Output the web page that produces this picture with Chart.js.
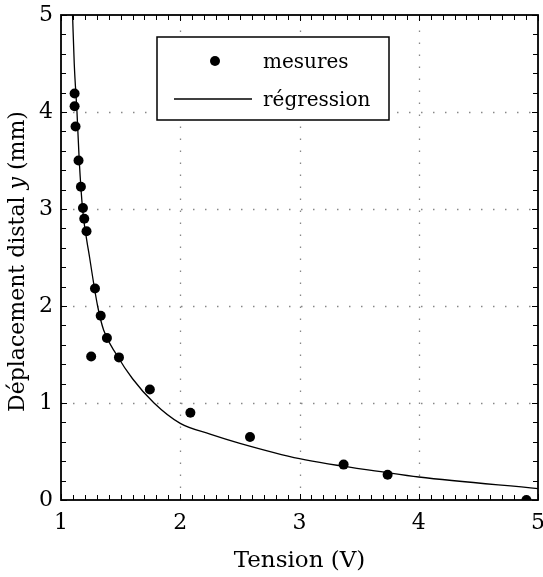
<!DOCTYPE html>
<html>
<head>
<meta charset="utf-8">
<script src="https://cdn.jsdelivr.net/npm/chart.js@4"></script>
<style>
    html, body { margin: 0; padding: 0; background: #fff; }
    canvas { display: block; }
</style>
</head>
<body>
<canvas id="chart" width="543" height="577"></canvas>
<script>
"use strict";

const measureX = [1.114, 1.114, 1.122, 1.147, 1.167, 1.184, 1.195, 1.214, 1.285, 1.333,
                  1.385, 1.253, 1.486, 1.745, 2.085, 2.585, 3.37, 3.739, 4.903];
const measureY = [4.19, 4.06, 3.85, 3.50, 3.23, 3.01, 2.90, 2.77, 2.18, 1.90,
                  1.67, 1.48, 1.47, 1.14, 0.90, 0.65, 0.365, 0.26, 0.0];

// Courbe de régression (points relevés le long du tracé)
const curveX = [1.097, 1.111, 1.134, 1.153, 1.181, 1.24, 1.307, 1.358, 1.465, 1.6,
                1.78, 2.0, 2.25, 2.5, 3.0, 3.76, 4.0, 5.0];
const curveY = [5.0, 4.5, 4.0, 3.5, 3.0, 2.5, 2.0, 1.75, 1.5, 1.25,
                1.0, 0.79, 0.68, 0.585, 0.427, 0.278, 0.237, 0.118];

// Axes
const xTicks = [1, 2, 3, 4, 5];
const yTicks = [0, 1, 2, 3, 4, 5];
const legendLabels = ["mesures", "régression"];

const FONT = "DejaVu Serif";

const toPoints = (xs, ys) => xs.map((x, i) => ({ x: x, y: ys[i] }));

// Cadre, graduations intérieures, grille pointillée, légende et titre de l'axe y
const framePlugin = {
    id: "frame",
    beforeDatasetsDraw(chart) {
        const { ctx, chartArea: a, scales: { x, y } } = chart;
        ctx.save();
        ctx.strokeStyle = "#888";
        ctx.lineWidth = 1.3;
        ctx.setLineDash([1.5, 10.5]);
        xTicks.slice(1, -1).forEach((v) => {
            const px = Math.round(x.getPixelForValue(v)) + 0.5;
            ctx.beginPath();
            ctx.moveTo(px, a.bottom);
            ctx.lineTo(px, a.top);
            ctx.stroke();
        });
        yTicks.slice(1, -1).forEach((v) => {
            const py = Math.round(y.getPixelForValue(v)) + 0.5;
            ctx.beginPath();
            ctx.moveTo(a.left, py);
            ctx.lineTo(a.right, py);
            ctx.stroke();
        });
        ctx.restore();
    },
    afterDraw(chart) {
        const { ctx, chartArea: a, scales: { x, y } } = chart;
        ctx.save();
        ctx.strokeStyle = "#000";
        ctx.lineWidth = 1;

        // graduations mineures / majeures vers l'intérieur
        for (let i = 0; i <= 40; i++) {
            const px = Math.round(x.getPixelForValue(1 + i * 0.1)) + 0.5;
            const len = i % 10 === 0 ? 6 : 5;
            ctx.beginPath();
            ctx.moveTo(px, a.bottom); ctx.lineTo(px, a.bottom - len);
            ctx.moveTo(px, a.top); ctx.lineTo(px, a.top + len);
            ctx.stroke();
        }
        for (let i = 0; i <= 25; i++) {
            const py = Math.round(y.getPixelForValue(i * 0.2)) + 0.5;
            const len = i % 5 === 0 ? 6 : 5;
            ctx.beginPath();
            ctx.moveTo(a.left, py); ctx.lineTo(a.left + len, py);
            ctx.moveTo(a.right, py); ctx.lineTo(a.right - len, py);
            ctx.stroke();
        }

        // cadre
        ctx.lineWidth = 1.8;
        ctx.strokeRect(a.left, a.top, a.right - a.left, a.bottom - a.top);

        // légende
        const bx = a.left + 96, by = a.top + 22, bw = 232, bh = 83;
        ctx.fillStyle = "#fff";
        ctx.fillRect(bx, by, bw, bh);
        ctx.lineWidth = 1.5;
        ctx.strokeRect(bx, by, bw, bh);
        ctx.fillStyle = "#000";
        ctx.beginPath();
        ctx.arc(bx + 58, by + 24, 5, 0, Math.PI * 2);
        ctx.fill();
        ctx.lineWidth = 1.3;
        ctx.beginPath();
        ctx.moveTo(bx + 17, by + 62);
        ctx.lineTo(bx + 95, by + 62);
        ctx.stroke();
        ctx.font = "20px '" + FONT + "'";
        ctx.textBaseline = "alphabetic";
        ctx.textAlign = "left";
        ctx.fillText(legendLabels[0], bx + 106, by + 31);
        ctx.fillText(legendLabels[1], bx + 106, by + 69);

        // titre de l'axe y avec y en italique
        const parts = [
            { t: "Déplacement distal ", f: "22px '" + FONT + "'" },
            { t: "y", f: "italic 22px '" + FONT + "'" },
            { t: " (mm)", f: "22px '" + FONT + "'" }
        ];
        let total = 0;
        parts.forEach((p) => { ctx.font = p.f; p.w = ctx.measureText(p.t).width; total += p.w; });
        ctx.translate(24, (a.top + a.bottom) / 2 + 4);
        ctx.rotate(-Math.PI / 2);
        let cx = -total / 2;
        parts.forEach((p) => {
            ctx.font = p.f;
            ctx.fillText(p.t, cx, 0);
            cx += p.w;
        });
        ctx.restore();
    }
};

const ctx = document.getElementById("chart");

new Chart(ctx, {
    type: "scatter",
    data: {
        datasets: [
            {
                label: legendLabels[0],
                data: toPoints(measureX, measureY),
                pointRadius: 5,
                pointHoverRadius: 5,
                pointBackgroundColor: "#000",
                pointBorderWidth: 0,
                showLine: false
            },
            {
                label: legendLabels[1],
                data: toPoints(curveX, curveY),
                showLine: true,
                borderColor: "#000",
                borderWidth: 1.3,
                pointRadius: 0,
                cubicInterpolationMode: "monotone",
                fill: false
            }
        ]
    },
    options: {
        responsive: false,
        animation: false,
        layout: { padding: { top: 15, right: 5, left: 0, bottom: 0 } },
        plugins: {
            legend: { display: false },
            tooltip: { enabled: false }
        },
        scales: {
            x: {
                type: "linear",
                min: 1,
                max: 5,
                afterBuildTicks: (scale) => { scale.ticks = xTicks.map((v) => ({ value: v })); },
                afterFit: (scale) => {
                    scale.height = 77;
                    scale.paddingLeft = 0;
                    scale.paddingRight = 0;
                },
                grid: { display: false, drawTicks: false },
                border: { display: false },
                ticks: {
                    color: "#000",
                    padding: 10,
                    font: { family: FONT, size: 22 },
                    maxRotation: 0
                },
                title: {
                    display: true,
                    text: "Tension (V)",
                    color: "#000",
                    font: { family: FONT, size: 23 },
                    padding: { top: 0, bottom: 2 }
                }
            },
            y: {
                type: "linear",
                min: 0,
                max: 5,
                afterBuildTicks: (scale) => { scale.ticks = yTicks.map((v) => ({ value: v })); },
                afterFit: (scale) => {
                    scale.width = 61;
                    scale.paddingTop = 0;
                    scale.paddingBottom = 0;
                },
                grid: { display: false, drawTicks: false },
                border: { display: false },
                ticks: {
                    color: "#000",
                    padding: 8,
                    font: { family: FONT, size: 22 }
                }
            }
        }
    },
    plugins: [framePlugin]
});
</script>
</body>
</html>
